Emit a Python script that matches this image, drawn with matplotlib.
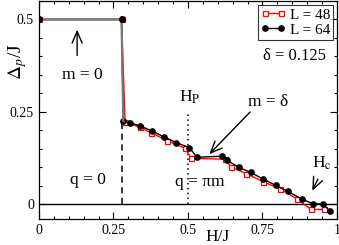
import matplotlib
matplotlib.use("Agg")
import matplotlib.pyplot as plt
from matplotlib.ticker import MultipleLocator

plt.rcParams['font.family'] = ['Liberation Serif', 'DejaVu Serif']
plt.rcParams['mathtext.fontset'] = 'stix'

# L = 48
h48 = [0, 0.277, 0.289, 0.339, 0.377, 0.431, 0.491, 0.511, 0.624, 0.646,
       0.695, 0.753, 0.810, 0.865, 0.913, 0.958]
d48 = [0.5, 0.5, 0.223, 0.208, 0.193, 0.172, 0.151, 0.124, 0.122, 0.100,
       0.083, 0.061, 0.041, 0.015, -0.014, -0.014]
# L = 64
h64 = [0, 0.277, 0.283, 0.307, 0.339, 0.380, 0.420, 0.460, 0.505, 0.530,
       0.613, 0.631, 0.670, 0.710, 0.753, 0.794, 0.835, 0.884, 0.918, 0.954, 0.975]
d64 = [0.5, 0.5, 0.225, 0.220, 0.212, 0.198, 0.182, 0.167, 0.153, 0.127,
       0.130, 0.119, 0.100, 0.086, 0.068, 0.051, 0.035, 0.013, 0.002, 0.000, -0.017]

h_first = 0.28   # dashed line
h_p = 0.5        # dotted line

fig = plt.figure(figsize=(3.39, 2.45), dpi=100)
ax = fig.add_axes([0.115, 0.106, 0.879, 0.89])

ax.axhline(0, color='black', lw=1)
ax.plot([h_first, h_first], [0, 0.222], ls=(0, (4, 3)), color='black', lw=1.1)
ax.plot([h_p, h_p], [0, 0.25], ls=(0, (1, 2.2)), color='black', lw=1.1)

ax.plot(h48, d48, color='red', lw=1, marker='s', ms=3.6, mfc='white',
        mec='red', mew=0.9, label='L = 48')
ax.plot(h64, d64, color='black', lw=1, marker='o', ms=3.8, label='L = 64')
# the plateau at 0.5 is drawn in grey
ax.plot(h64[:3], d64[:3], color='#777777', lw=1.6)
ax.plot(h64[:2], d64[:2], ls='none', marker='o', ms=3.8, color='black')

ax.set_xlim(0, 1)
ax.set_ylim(-0.04, 0.55)
ax.xaxis.set_minor_locator(MultipleLocator(0.05))
ax.yaxis.set_minor_locator(MultipleLocator(0.05))
ax.set_xticks([0, 0.25, 0.5, 0.75, 1])
ax.set_xticklabels(['0', '0.25', '0.5', '0.75', '1'])
ax.set_yticks([0, 0.25, 0.5])
ax.set_yticklabels(['0', '0.25', '0.5'])
ax.tick_params(which='both', direction='in', top=True, right=True, labelsize=10)
ax.tick_params(which='major', length=5, width=0.8)
ax.tick_params(which='minor', length=2.5, width=0.8)
for s in ax.spines.values():
    s.set_linewidth(0.9)

ax.set_xlabel('H/J', fontsize=12.5)
ax.xaxis.set_label_coords(0.6, -0.045)
ax.set_ylabel(r'$\Delta_p$/J', fontsize=14)
ax.yaxis.set_label_coords(-0.035, 0.72)

leg = ax.legend(loc='upper right', fontsize=11, numpoints=2, frameon=True,
                fancybox=False, edgecolor='black', borderpad=0.2,
                handlelength=1.6, handletextpad=0.3, labelspacing=0.1,
                borderaxespad=0.25)
leg.get_frame().set_linewidth(0.8)

arr = dict(arrowstyle='->, head_length=0.7, head_width=0.3', lw=1,
           color='black', mutation_scale=12)

ax.text(0.145, 0.35, 'm = 0', fontsize=12.5, ha='center', va='center')
ax.annotate('', xy=(0.128, 0.48), xytext=(0.128, 0.395), arrowprops=arr)
ax.text(0.163, 0.065, 'q = 0', fontsize=12.5, ha='center', va='center')
ax.text(0.505, 0.29, r'H$_\mathrm{P}$', fontsize=12.5, ha='center', va='center')
ax.text(0.54, 0.06, 'q = πm', fontsize=12.5, ha='center', va='center')
ax.text(0.77, 0.276, 'm = δ', fontsize=12.5, ha='center', va='center')
ax.annotate('', xy=(0.565, 0.13), xytext=(0.715, 0.255), arrowprops=arr)
ax.text(0.95, 0.11, r'H$_\mathrm{c}$', fontsize=12.5, ha='center', va='center')
ax.annotate('', xy=(0.913, 0.03), xytext=(0.94, 0.075), arrowprops=arr)
ax.text(0.858, 0.40, 'δ = 0.125', fontsize=12, ha='center', va='center')

fig.savefig('out.png', dpi=100)
